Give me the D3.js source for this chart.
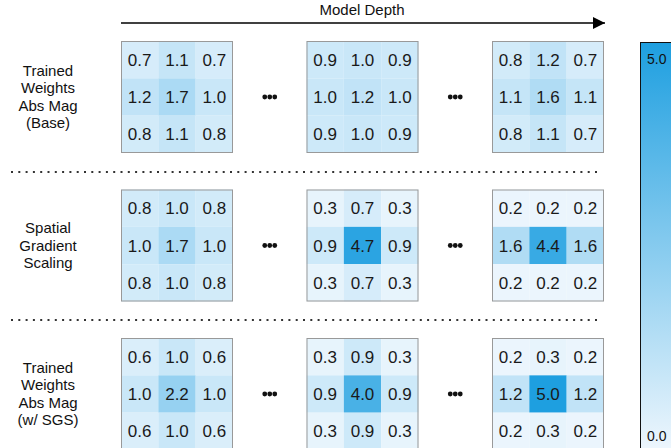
<!DOCTYPE html>
<html>
<head>
<meta charset="utf-8">
<script src="https://cdn.jsdelivr.net/npm/d3@7"></script>
<style>
  body { margin: 0; background: white; overflow: hidden; }
  text { font-family: "Liberation Sans", Arial, sans-serif; }
</style>
</head>
<body>
<div class="chart"></div>
<script>
// row labels (one list of lines per row)
var rowLabels = [
  ['Trained', 'Weights', 'Abs Mag', '(Base)'],
  ['Spatial', 'Gradient', 'Scaling'],
  ['Trained', 'Weights', 'Abs Mag', '(w/ SGS)']
];

// 3x3 kernels, row by row: first, middle, last layer
var baseKernels = [
  [0.7, 1.1, 0.7, 1.2, 1.7, 1.0, 0.8, 1.1, 0.8],
  [0.9, 1.0, 0.9, 1.0, 1.2, 1.0, 0.9, 1.0, 0.9],
  [0.8, 1.2, 0.7, 1.1, 1.6, 1.1, 0.8, 1.1, 0.7]
];
var sgsKernels = [
  [0.8, 1.0, 0.8, 1.0, 1.7, 1.0, 0.8, 1.0, 0.8],
  [0.3, 0.7, 0.3, 0.9, 4.7, 0.9, 0.3, 0.7, 0.3],
  [0.2, 0.2, 0.2, 1.6, 4.4, 1.6, 0.2, 0.2, 0.2]
];
var trainedSgsKernels = [
  [0.6, 1.0, 0.6, 1.0, 2.2, 1.0, 0.6, 1.0, 0.6],
  [0.3, 0.9, 0.3, 0.9, 4.0, 0.9, 0.3, 0.9, 0.3],
  [0.2, 0.3, 0.2, 1.2, 5.0, 1.2, 0.2, 0.3, 0.2]
];
var allKernels = [baseKernels, sgsKernels, trainedSgsKernels];
var colorDomain = [0, 5];
var colorTicks = ['0.0', '5.0'];

var width = 671, height = 448;
var gridSize = 112, cellSize = gridSize / 3;

var svg = d3.select('.chart').append('svg')
    .attr('width', width)
    .attr('height', height);

var color = d3.scaleLinear().domain(colorDomain).range(['#f4f9fe', '#1e9fe0']);

// column / row positions of the grids
var xGrid = d3.scalePoint().domain([0, 1, 2]).range([121, 492]);
var yGrid = d3.scalePoint().domain([0, 1, 2]).range([41, 338]);

// header arrow
var defs = svg.append('defs');
defs.append('marker')
    .attr('id', 'head')
    .attr('viewBox', '0 0 10 10')
    .attr('refX', 10).attr('refY', 5)
    .attr('markerWidth', 12).attr('markerHeight', 12)
    .attr('markerUnits', 'userSpaceOnUse')
    .attr('orient', 'auto')
  .append('path').attr('d', 'M0,0L10,5L0,10Z').attr('fill', 'black');

svg.append('line')
    .attr('x1', 121).attr('x2', 605)
    .attr('y1', 23).attr('y2', 23)
    .attr('stroke', 'black').attr('stroke-width', 1.5)
    .attr('marker-end', 'url(#head)');

svg.append('text')
    .text('Model Depth')
    .attr('x', 362).attr('y', 15)
    .attr('text-anchor', 'middle')
    .attr('font-size', 15)
    .attr('fill', '#111');

// dotted separators
[172, 320].forEach(function(y) {
  svg.append('line')
      .attr('x1', 11).attr('x2', 600)
      .attr('y1', y).attr('y2', y)
      .attr('stroke', '#333')
      .attr('stroke-width', 2)
      .attr('stroke-dasharray', '2 5.3');
});

allKernels.forEach(function(rowKernels, r) {
  var y0 = yGrid(r);

  // row label
  var lines = rowLabels[r];
  var lh = 17.5;
  var mid = y0 + gridSize / 2;
  svg.append('g').selectAll('text').data(lines)
    .enter().append('text')
      .text(function(d) { return d; })
      .attr('x', 48)
      .attr('y', function(d, i) { return mid + (i - (lines.length - 1) / 2) * lh + 5; })
      .attr('text-anchor', 'middle')
      .attr('font-size', 15)
      .attr('fill', '#111');

  rowKernels.forEach(function(kernel, c) {
    var x0 = xGrid(c);
    var g = svg.append('g').attr('transform', 'translate(' + x0 + ',' + y0 + ')');

    g.selectAll('rect.cell').data(kernel)
      .enter().append('rect')
        .attr('class', 'cell')
        .attr('x', function(d, i) { return (i % 3) * cellSize; })
        .attr('y', function(d, i) { return Math.floor(i / 3) * cellSize; })
        .attr('width', cellSize)
        .attr('height', cellSize)
        .style('fill', function(d) { return color(d); });

    g.append('rect')
        .attr('x', 0.5).attr('y', 0.5)
        .attr('width', gridSize - 1).attr('height', gridSize - 1)
        .attr('fill', 'none')
        .attr('stroke', '#999');

    g.selectAll('text').data(kernel)
      .enter().append('text')
        .text(function(d) { return d.toFixed(1); })
        .attr('x', function(d, i) { return (i % 3 + 0.5) * cellSize; })
        .attr('y', function(d, i) { return (Math.floor(i / 3) + 0.5) * cellSize + 6; })
        .attr('text-anchor', 'middle')
        .attr('font-size', 17)
        .attr('fill', '#1a1a1a');

    // ellipsis between grids
    if (c < 2) {
      var cx = (x0 + gridSize + xGrid(c + 1)) / 2;
      svg.append('g').selectAll('circle').data([-1, 0, 1])
        .enter().append('circle')
          .attr('cx', function(d) { return cx + d * 5; })
          .attr('cy', mid)
          .attr('r', 2.4)
          .attr('fill', '#111');
    }
  });
});

// colour bar
var grad = defs.append('linearGradient')
    .attr('id', 'cbar')
    .attr('x1', 0).attr('x2', 0).attr('y1', 1).attr('y2', 0);
d3.range(0, 1.01, 0.1).forEach(function(t) {
  grad.append('stop')
      .attr('offset', t)
      .attr('stop-color', color(colorDomain[0] + t * (colorDomain[1] - colorDomain[0])));
});

svg.append('rect')
    .attr('x', 640.5).attr('y', 42.5)
    .attr('width', 60).attr('height', 420)
    .attr('fill', 'url(#cbar)')
    .attr('stroke', '#111');

var yBar = d3.scaleLinear().domain(colorDomain).range([441, 64]);
svg.selectAll('text.cb').data(colorTicks)
  .enter().append('text')
    .attr('class', 'cb')
    .text(function(d) { return d; })
    .attr('x', 647)
    .attr('y', function(d) { return yBar(+d); })
    .attr('font-size', 14)
    .attr('fill', '#111');
</script>
</body>
</html>
